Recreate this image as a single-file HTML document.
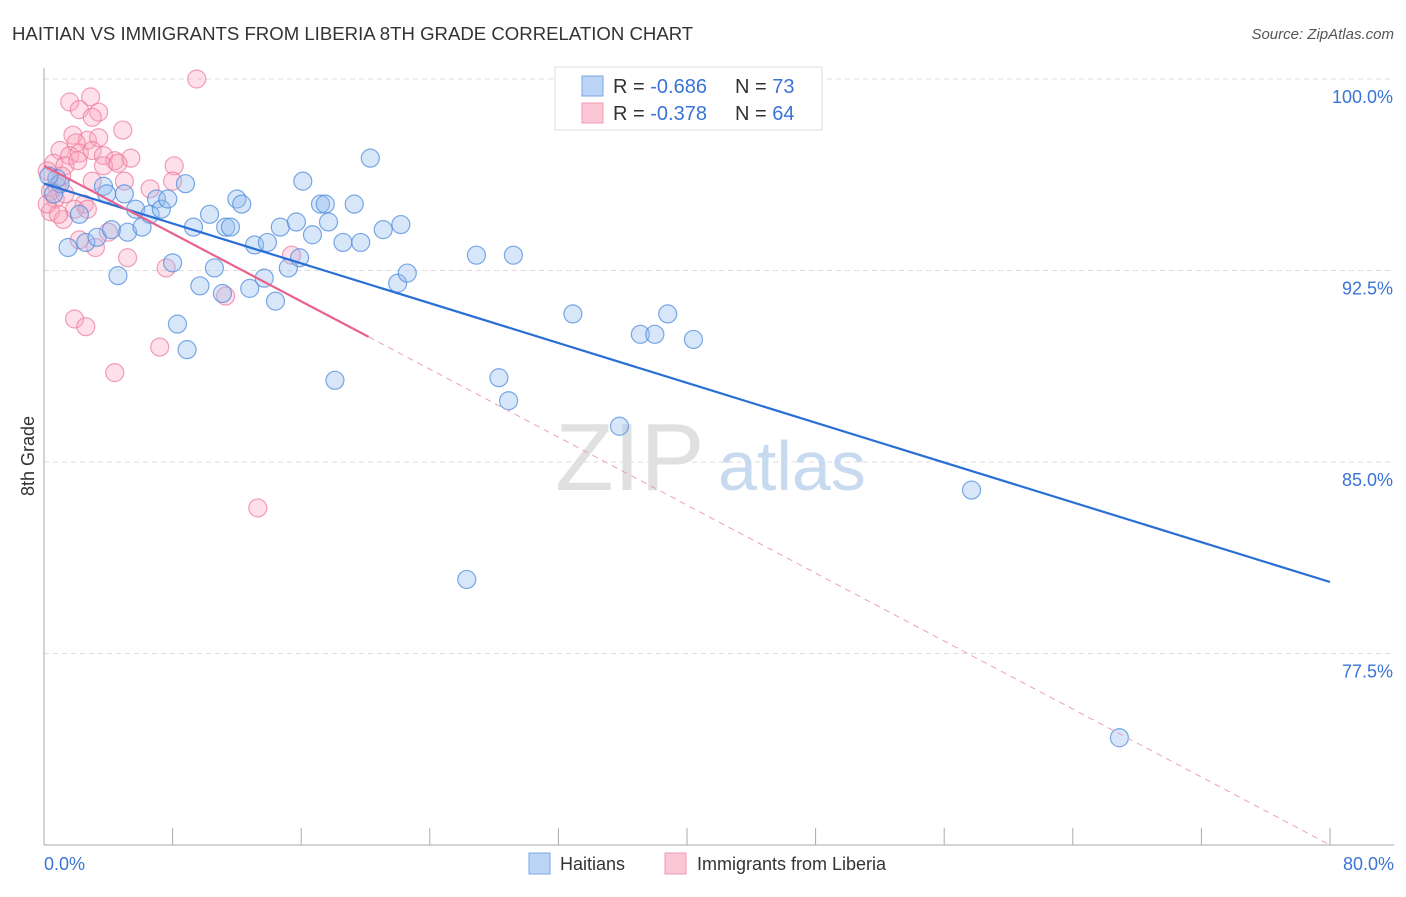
<!DOCTYPE html>
<html><head><meta charset="utf-8"><style>
body{margin:0;background:#fff;font-family:"Liberation Sans",sans-serif}
svg text{font-family:"Liberation Sans",sans-serif}
</style></head><body>
<svg id="chart" width="1406" height="892">
<text x="12" y="40" font-size="18.6" fill="#333">HAITIAN VS IMMIGRANTS FROM LIBERIA 8TH GRADE CORRELATION CHART</text>
<text x="1394" y="39" font-size="15" fill="#555" text-anchor="end" font-style="italic">Source: ZipAtlas.com</text>
<g id="grid"></g>
<g id="yticks"></g>
<g><text x="555" y="490" font-size="96" fill="#e0e0e0" font-family="Liberation Serif">ZIP</text><text x="718" y="490" font-size="70" fill="#c8daf0">atlas</text></g>
<line x1="44" y1="68" x2="44" y2="845" stroke="#aaa"/>
<line x1="44" y1="845" x2="1394" y2="845" stroke="#aaa"/>
<g id="xticks"></g>
<text x="44" y="870" font-size="18" fill="#3a74d6">0.0%</text>
<text x="1394" y="870" font-size="18" fill="#3a74d6" text-anchor="end">80.0%</text>
<text transform="translate(34,456) rotate(-90)" font-size="18" fill="#333" text-anchor="middle">8th Grade</text>
<g id="pink"></g>
<g id="blue"></g>
<g id="lines"></g>
<g>
<rect x="555" y="67" width="267" height="63" fill="#fff" stroke="#ddd"/>
<rect x="582" y="76" width="21" height="20" fill="#bcd5f7" stroke="#7aa6e6"/>
<rect x="582" y="103" width="21" height="20" fill="#fbc6d5" stroke="#f09ab4"/>
<text x="613" y="93" font-size="20" fill="#333">R = <tspan fill="#3a74d6">-0.686</tspan><tspan x="735">N = </tspan><tspan fill="#3a74d6">73</tspan></text>
<text x="613" y="120" font-size="20" fill="#333">R = <tspan fill="#3a74d6">-0.378</tspan><tspan x="735">N = </tspan><tspan fill="#3a74d6">64</tspan></text>
</g>
<g>
<rect x="529" y="853" width="21" height="21" fill="#bcd5f7" stroke="#7aa6e6"/>
<text x="560" y="870" font-size="18" fill="#333">Haitians</text>
<rect x="665" y="853" width="21" height="21" fill="#fbc6d5" stroke="#f09ab4"/>
<text x="697" y="870" font-size="18" fill="#333">Immigrants from Liberia</text>
</g>
</svg>
<script>
const yTicks=[100,92.5,85,77.5];
const yTickLabels=["100.0%","92.5%","85.0%","77.5%"];
const blueX=[32.5,0.8,1.0,0.3,0.6,1.5,2.6,3.3,2.2,3.7,3.9,4.2,5.0,4.6,5.2,5.7,6.1,6.6,7.0,7.3,7.7,8.0,8.3,8.8,8.9,9.3,9.7,10.3,10.6,11.1,11.3,11.6,12.0,12.3,12.8,13.1,13.7,13.9,14.4,14.7,15.2,15.7,15.9,16.1,16.7,17.2,17.5,17.7,18.1,18.6,19.3,19.7,20.3,21.1,22.0,22.2,22.6,26.3,26.9,28.3,28.9,29.2,32.9,35.8,37.1,38.0,38.8,40.4,57.7,66.9];
const blueY=[100.0,96.1,95.9,96.2,95.5,93.4,93.6,93.8,94.7,95.8,95.5,94.1,95.5,92.3,94.0,94.9,94.2,94.7,95.3,94.9,95.3,92.8,90.4,95.9,89.4,94.2,91.9,94.7,92.6,91.6,94.2,94.2,95.3,95.1,91.8,93.5,92.2,93.6,91.3,94.2,92.6,94.4,93.0,96.0,93.9,95.1,95.1,94.4,88.2,93.6,95.1,93.6,96.9,94.1,92.0,94.3,92.4,80.4,93.1,88.3,87.4,93.1,90.8,86.4,90.0,90.0,90.8,89.8,83.9,74.2];
const pinkX=[9.5,1.6,2.2,2.9,3.4,3.0,4.9,1.8,2.7,3.4,2.0,1.0,1.6,2.2,3.0,3.7,4.4,5.4,0.6,1.3,2.1,3.7,4.6,8.1,0.2,1.1,3.0,5.0,6.6,8.0,0.8,0.4,0.7,2.5,0.4,1.2,1.9,2.7,4.0,2.2,3.2,5.2,7.6,11.3,15.4,1.9,2.6,7.2,4.4,13.3,1.3,0.2,0.9];
const pinkY=[100.0,99.1,98.8,99.3,98.7,98.5,98.0,97.8,97.6,97.7,97.5,97.2,97.0,97.1,97.2,97.0,96.8,96.9,96.7,96.6,96.8,96.6,96.7,96.6,96.4,96.2,96.0,96.0,95.7,96.0,95.8,95.6,95.3,95.1,94.8,94.5,94.9,94.9,94.0,93.7,93.4,93.0,92.6,91.5,93.1,90.6,90.3,89.5,88.5,83.2,95.5,95.1,94.7];
const blueTrend=[[0,95.9],[80,80.3]];
const pinkTrend=[[0,96.6],[20.2,89.9]];
const pinkDash=[[20.2,89.9],[80,70.0]];
const X=v=>44+v/80*1286;
const Y=v=>79+(100-v)/7.5*191.5;
const NS="http://www.w3.org/2000/svg";
function mk(tag,attrs,parent){const e=document.createElementNS(NS,tag);for(const k in attrs)e.setAttribute(k,attrs[k]);document.getElementById(parent).appendChild(e);return e;}
yTicks.forEach((t,i)=>{
 const l=mk('line',{x1:44,x2:1394,y1:Y(t),y2:Y(t),stroke:'#ddd','stroke-dasharray':'5,4'},'grid');
 
 
 const tx=mk('text',{x:1393,y:Y(t)+24,'font-size':18,fill:'#3a74d6','text-anchor':'end'},'yticks');
 tx.textContent=yTickLabels[i];
 
 
});
for(let i=1;i<=10;i++){
 const l=mk('line',{x1:X(i*8),x2:X(i*8),y1:828,y2:845,stroke:'#aaa'},'xticks');
 
 
}
pinkX.forEach((x,i)=>{
 const c=mk('circle',{cx:X(x),cy:Y(pinkY[i]),r:9,fill:'rgba(248,165,192,0.35)',stroke:'rgba(236,120,155,0.7)','stroke-width':1.2},'pink');
 
 
});
blueX.forEach((x,i)=>{
 const c=mk('circle',{cx:X(x),cy:Y(blueY[i]),r:9,fill:'rgba(150,190,240,0.38)',stroke:'rgba(80,140,220,0.75)','stroke-width':1.2},'blue');
 
 
});
const bl=mk('line',{x1:X(blueTrend[0][0]),y1:Y(blueTrend[0][1]),x2:X(blueTrend[1][0]),y2:Y(blueTrend[1][1]),stroke:'#2a6fd6','stroke-width':2.2},'lines');


const pl=mk('line',{x1:X(pinkTrend[0][0]),y1:Y(pinkTrend[0][1]),x2:X(pinkTrend[1][0]),y2:Y(pinkTrend[1][1]),stroke:'#e8628c','stroke-width':2.2},'lines');


const pd=mk('line',{x1:X(pinkDash[0][0]),y1:Y(pinkDash[0][1]),x2:X(pinkDash[1][0]),y2:Y(pinkDash[1][1]),stroke:'#eea0b8','stroke-width':1,'stroke-dasharray':'6,5'},'lines');


</script>
</body></html>
